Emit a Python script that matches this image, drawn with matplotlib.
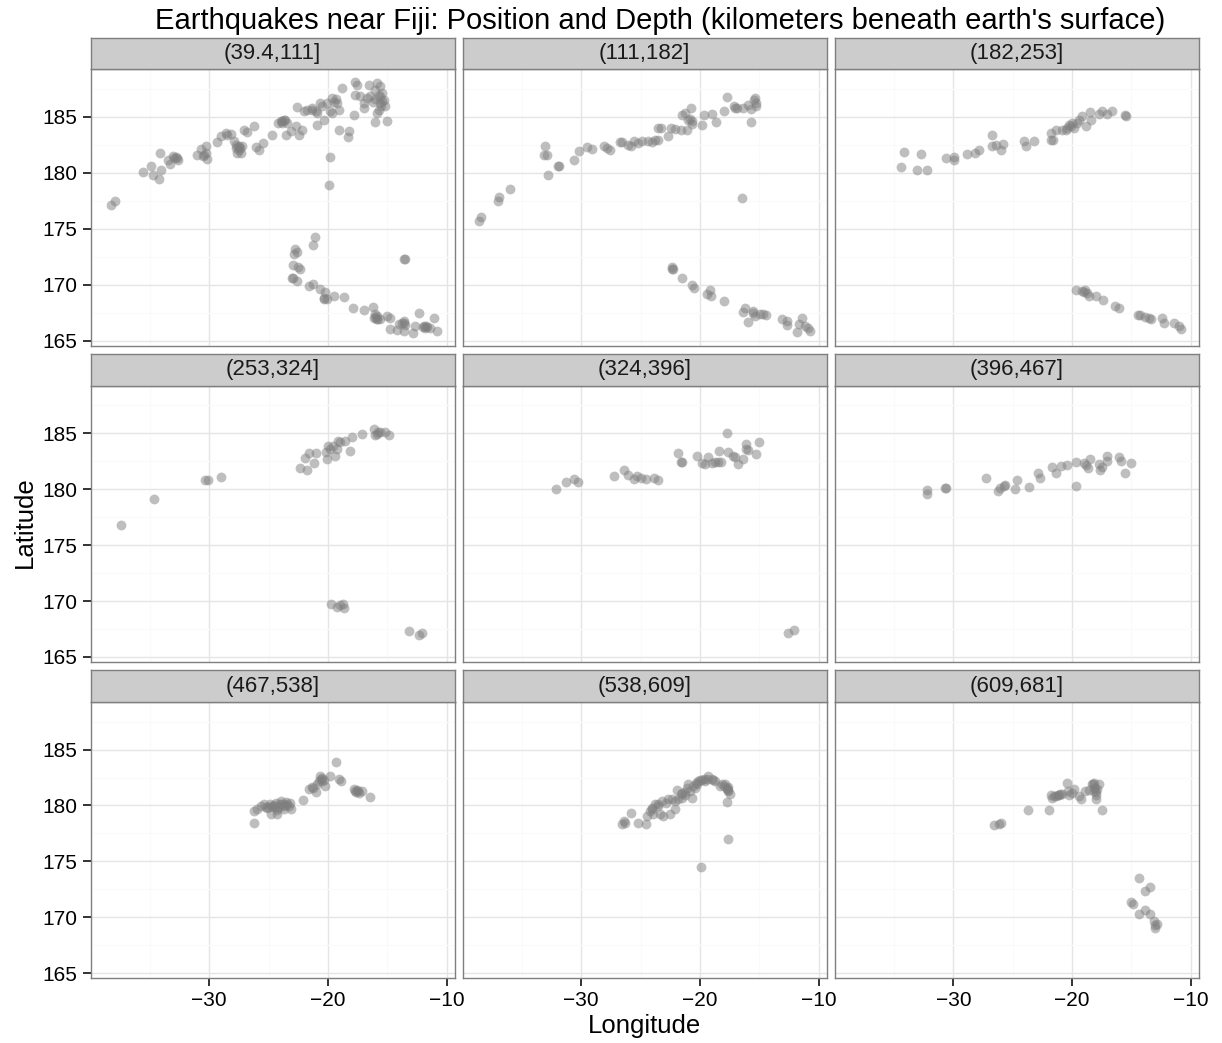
import numpy as np
import matplotlib
matplotlib.use("Agg")
import matplotlib.pyplot as plt

# depth classes (facet titles)
depth_bins = ["(39.4,111]", "(111,182]", "(182,253]",
              "(253,324]", "(324,396]", "(396,467]",
              "(467,538]", "(538,609]", "(609,681]"]

# values: lat (x axis) and long (y axis) per depth class
lat1 = [-38.26, -37.93, -35.55, -34.90, -34.71, -34.20, -34.06, -34.15, -33.50, -33.08,
        -32.60, -32.80, -33.28, -31.04, -30.70, -30.28, -30.14, -30.42, -29.30, -29.02,
        -28.60, -28.18, -27.76, -27.48, -27.20, -27.62, -27.34, -27.90, -27.06, -26.78,
        -26.22, -26.08, -25.80, -25.43, -24.68, -23.98, -23.70, -23.42, -23.56, -23.14,
        -22.72, -22.44, -22.16, -22.02, -22.58, -21.74, -21.32, -20.90, -20.90, -20.62,
        -20.34, -20.06, -19.78, -19.64, -19.22, -19.08, -19.64, -19.08, -18.24, -18.32,
        -17.82, -18.80, -17.68, -17.54, -17.68, -17.25, -16.97, -16.55, -16.41, -15.99,
        -15.85, -15.57, -15.43, -15.29, -15.57, -15.15, -15.85, -15.99, -15.01, -16.97,
        -16.69, -15.71, -19.78, -19.92, -23.84, -27.48, -28.46, -20.48, -15.43, -15.71,
        -23.90, -23.60, -24.20, -27.60, -27.40, -27.70, -16.00, -15.60, -15.50, -16.20,
        -30.30, -30.50, -33.00, -32.70, -21.00, -21.30, -19.50, -19.30,
        -21.12, -21.29, -22.77, -22.86, -22.58, -22.91, -22.35, -23.00, -22.58, -21.57,
        -21.23, -20.62, -20.20, -20.34, -20.06, -19.50, -18.66, -17.90, -16.97, -16.22,
        -16.13, -15.85, -15.57, -15.01, -14.73, -14.73, -14.17, -13.75, -13.61, -12.83,
        -12.35, -11.93, -11.65, -11.37, -11.04, -10.81, -12.63, -13.47, -15.99, -13.61,
        -13.47, -13.61, -14.03, -11.79, -15.85, -12.00, -11.70, -16.00, -15.90, -13.60,
        -22.50, -22.90, -20.30]
long1 = [177.17, 177.47, 180.06, 180.60, 179.82, 179.46, 180.24, 181.79, 181.19, 181.55,
         181.19, 181.43, 180.83, 181.61, 182.14, 182.38, 181.25, 181.64, 182.74, 183.27,
         183.57, 183.51, 182.23, 182.44, 182.38, 181.79, 181.79, 182.83, 183.87, 183.63,
         184.17, 182.32, 182.08, 182.68, 183.42, 184.61, 184.76, 184.46, 183.42, 183.72,
         184.17, 183.42, 183.87, 185.51, 185.89, 185.65, 185.80, 185.36, 184.32, 186.25,
         184.76, 186.25, 185.51, 186.70, 186.25, 185.65, 185.36, 183.87, 183.72, 183.21,
         185.21, 187.59, 188.10, 187.89, 186.99, 186.85, 185.80, 187.89, 186.85, 187.44,
         188.04, 187.80, 187.14, 186.55, 186.25, 185.95, 185.36, 184.52, 184.61, 186.25,
         186.70, 186.99, 181.43, 178.90, 184.46, 182.08, 183.42, 185.95, 186.40, 185.65,
         184.60, 184.70, 184.50, 182.30, 182.20, 182.50, 186.60, 186.80, 186.00, 186.30,
         181.80, 181.50, 181.30, 181.30, 185.50, 185.60, 186.30, 186.60,
         174.23, 173.51, 173.15, 172.71, 172.92, 171.76, 171.43, 170.63, 170.33, 169.88,
         170.03, 169.64, 169.35, 168.69, 168.75, 168.99, 168.87, 167.92, 167.74, 168.04,
         167.05, 167.20, 166.90, 167.20, 167.05, 166.07, 165.95, 166.61, 165.86, 165.65,
         167.50, 166.31, 166.25, 166.16, 167.05, 165.86, 166.31, 166.37, 167.35, 172.26,
         172.26, 166.76, 166.46, 166.16, 166.90, 166.20, 166.30, 167.10, 166.90, 166.60,
         171.60, 170.60, 168.80]

lat2 = [-38.63, -38.43, -37.03, -36.95, -35.97, -33.03, -33.17, -32.89, -32.83, -31.99,
        -31.85, -30.64, -30.22, -29.52, -29.10, -28.07, -27.79, -27.62, -26.72, -26.58,
        -26.08, -25.83, -25.55, -25.18, -24.90, -24.34, -24.06, -23.78, -23.50, -23.56,
        -23.28, -22.72, -22.44, -22.10, -21.62, -21.06, -21.54, -21.26, -20.76, -20.98,
        -20.70, -20.64, -19.80, -19.64, -18.96, -18.68, -17.98, -17.70, -17.11, -16.92,
        -16.36, -15.99, -15.71, -15.38, -15.32, -15.24, -15.43, -15.69, -16.44, -20.84,
        -17.06,
        -22.38, -22.30, -21.54, -20.70, -20.50, -19.44, -19.16, -19.08, -17.96, -16.41,
        -16.22, -15.94, -15.52, -15.38, -14.96, -14.68, -14.40, -13.08, -12.66, -12.63,
        -11.79, -11.68, -11.40, -10.90, -10.76, -11.18, -15.52, -22.38]
long2 = [175.68, 176.04, 177.53, 177.86, 178.57, 182.38, 181.61, 181.61, 179.79, 180.60,
         180.63, 181.19, 181.99, 182.32, 182.14, 182.44, 182.23, 182.08, 182.74, 182.77,
         182.50, 182.38, 182.89, 182.68, 182.89, 182.83, 182.74, 182.98, 182.98, 184.02,
         184.02, 183.33, 184.02, 183.96, 183.87, 183.81, 185.21, 185.36, 185.77, 184.76,
         184.61, 184.38, 184.32, 185.21, 185.30, 184.52, 185.51, 186.79, 185.95, 185.80,
         185.80, 186.10, 185.71, 186.70, 186.25, 185.95, 186.49, 184.52, 177.77, 184.82,
         185.80,
         171.61, 171.43, 170.57, 169.94, 169.73, 169.14, 169.52, 168.99, 168.54, 167.56,
         167.95, 166.67, 167.65, 167.20, 167.35, 167.35, 167.26, 166.90, 166.37, 166.76,
         165.77, 166.46, 167.05, 166.16, 165.86, 166.31, 167.50, 171.43]

lat3 = [-34.41, -34.13, -33.04, -32.74, -32.21, -30.59, -29.97, -29.94, -28.83, -28.21,
        -27.88, -26.73, -26.73, -26.40, -25.98, -25.78, -24.02, -23.88, -23.18, -21.79,
        -21.79, -21.59, -21.37, -20.81, -20.39, -20.25, -19.97, -19.83, -19.55, -19.19,
        -18.85, -18.44, -18.52, -17.74, -17.46, -17.09, -16.62, -15.50, -15.45, -20.11,
        -19.41, -20.53,
        -19.69, -19.13, -18.91, -18.72, -18.58, -18.02, -17.40, -16.34, -16.06, -14.44,
        -14.25, -13.83, -13.55, -13.32, -12.43, -12.29, -11.45, -11.03, -10.81, -18.99]
long3 = [180.54, 181.85, 180.24, 181.73, 180.24, 181.34, 181.43, 181.13, 181.70, 181.79,
         182.08, 183.42, 182.38, 182.53, 182.08, 182.62, 182.83, 182.44, 182.83, 183.57,
         182.98, 182.92, 183.81, 183.81, 184.02, 184.32, 184.46, 184.02, 184.46, 185.06,
         184.17, 184.76, 185.42, 185.30, 185.51, 185.30, 185.57, 185.21, 185.12, 184.17,
         184.76, 183.87,
         169.52, 169.43, 169.52, 169.23, 168.99, 168.99, 168.63, 168.10, 167.92, 167.26,
         167.26, 167.14, 167.05, 166.96, 167.05, 166.61, 166.55, 166.31, 166.01, 169.35]

lat4 = [-37.39, -34.65, -30.34, -30.06, -28.99, -22.35, -21.79, -21.93, -21.60, -21.18,
        -20.98, -20.11, -20.17, -20.00, -19.58, -19.36, -19.22, -19.16, -18.94, -18.57,
        -18.15, -17.93, -17.09, -16.08, -15.99, -15.80, -15.57, -15.15, -14.82, -19.72,
        -19.22, -18.99, -18.74, -18.60, -13.17, -12.35, -12.07, -19.78, -15.85]
long4 = [176.78, 179.09, 180.79, 180.79, 181.11, 181.91, 181.68, 182.77, 183.25, 182.36,
         183.19, 182.72, 183.31, 183.90, 183.90, 183.01, 183.55, 184.35, 184.20, 184.29,
         183.40, 184.70, 184.94, 185.39, 184.85, 185.15, 185.09, 185.15, 184.85, 169.75,
         169.51, 169.66, 169.72, 169.36, 167.28, 166.99, 167.11, 183.61, 184.94]

lat5 = [-32.13, -31.26, -30.62, -30.28, -27.25, -26.39, -26.02, -25.52, -25.27, -24.99,
        -24.54, -23.84, -23.56, -21.82, -21.60, -20.28, -19.80, -19.58, -19.30, -19.02,
        -18.74, -18.46, -18.24, -18.40, -17.70, -17.62, -17.20, -17.06, -16.83, -16.36,
        -16.16, -16.16, -15.99, -15.24, -15.01, -12.58, -12.07, -21.54]
long5 = [179.99, 180.64, 180.91, 180.61, 181.14, 181.74, 181.23, 180.94, 181.17, 180.99,
         180.94, 181.02, 180.79, 183.19, 182.42, 183.01, 182.36, 182.27, 182.86, 182.36,
         182.42, 182.42, 182.42, 183.43, 185.00, 183.31, 182.95, 182.86, 182.27, 182.72,
         184.08, 183.61, 183.52, 183.10, 184.20, 167.14, 167.43, 182.42]

lat6 = [-32.18, -32.18, -30.67, -30.64, -27.26, -26.20, -26.03, -25.70, -25.61, -24.83,
        -24.66, -23.60, -22.85, -22.71, -21.65, -21.37, -20.89, -20.39, -19.69, -19.66,
        -18.99, -18.85, -18.63, -18.52, -17.74, -17.68, -17.46, -17.04, -17.04, -16.06,
        -15.89, -15.50, -15.06]
long6 = [179.90, 179.60, 180.13, 180.10, 181.02, 179.84, 180.13, 180.31, 180.37, 180.01,
         180.82, 180.22, 181.41, 181.02, 181.94, 181.47, 182.09, 182.15, 182.45, 180.31,
         182.30, 182.15, 181.91, 182.69, 182.24, 181.71, 182.00, 182.98, 182.51, 182.89,
         182.51, 181.44, 182.33]

lat7 = [-26.19, -26.19, -25.94, -25.66, -25.38, -25.10, -24.82, -24.68, -24.40, -24.26,
        -24.12, -23.84, -23.70, -23.56, -23.42, -23.19, -23.14, -24.26, -23.98, -23.28,
        -25.24, -24.90, -24.54, -23.70, -22.13, -21.60, -21.32, -21.04, -20.90, -20.62,
        -20.48, -20.34, -20.20, -19.83, -19.30, -19.08, -18.88, -17.82, -17.68, -17.54,
        -17.39, -17.11, -16.47, -20.76, -21.23, -24.50, -24.00, -23.60, -25.00, -24.30,
        -20.60, -20.50, -17.60, -17.50]
long7 = [179.49, 178.42, 179.64, 179.94, 180.09, 179.73, 179.20, 179.94, 180.24, 179.20,
         179.85, 180.09, 179.64, 180.33, 180.09, 180.24, 179.64, 179.79, 180.39, 179.94,
         179.85, 180.15, 179.85, 179.94, 180.51, 181.43, 181.64, 181.22, 181.88, 182.62,
         182.17, 182.32, 181.73, 182.62, 183.87, 182.38, 182.17, 181.43, 181.28, 181.34,
         181.13, 181.28, 180.77, 182.17, 181.52, 180.00, 180.10, 180.00, 179.90, 179.60,
         182.40, 182.50, 181.20, 181.30]

lat8 = [-26.58, -26.30, -26.44, -25.80, -25.18, -24.57, -24.45, -24.20, -24.06, -23.78,
        -23.50, -23.36, -23.08, -22.66, -22.52, -22.10, -21.96, -21.82, -21.54, -21.26,
        -20.98, -20.84, -20.70, -20.56, -20.42, -20.14, -19.86, -19.58, -19.30, -19.02,
        -18.74, -18.32, -17.90, -17.76, -17.62, -17.48, -17.62, -17.70, -17.65, -19.92,
        -23.50, -23.22, -22.38, -21.54, -21.12, -20.28, -19.44, -18.88, -18.18, -23.92,
        -22.10, -20.30, -20.00, -19.70, -18.00, -17.70, -17.60, -21.30, -21.60, -22.90,
        -24.00]
long8 = [178.36, 178.42, 178.60, 179.35, 178.39, 178.36, 179.05, 179.49, 179.79, 180.09,
         180.09, 179.20, 179.05, 180.54, 179.20, 179.64, 181.34, 180.54, 180.69, 180.98,
         181.88, 181.28, 180.69, 181.73, 181.58, 182.17, 182.32, 182.17, 182.62, 182.41,
         182.17, 181.73, 181.93, 181.52, 181.28, 181.04, 181.64, 180.30, 176.99, 174.46,
         179.94, 180.39, 180.54, 181.13, 181.52, 181.88, 182.41, 182.32, 181.88, 179.20,
         180.39, 182.00, 182.30, 182.40, 181.70, 181.50, 181.40, 181.20, 181.00, 180.20,
         179.70]

lat9 = [-26.54, -26.12, -25.98, -23.72, -21.98, -21.79, -21.65, -21.37, -21.09, -20.81,
        -20.45, -20.31, -20.25, -19.83, -19.41, -19.27, -18.91, -18.58, -18.30, -18.16,
        -18.02, -18.02, -17.74, -17.51, -18.16, -17.88, -14.39, -13.41, -13.88, -15.03,
        -14.89, -14.39, -13.88, -13.41, -13.13, -12.99, -12.85, -13.04, -21.51, -18.16,
        -20.03, -18.10, -18.00, -18.20, -21.20, -21.00]
long9 = [178.27, 178.33, 178.42, 179.58, 179.58, 180.98, 180.68, 180.83, 180.98, 181.04,
         181.99, 181.28, 180.98, 181.43, 180.83, 180.54, 181.28, 181.34, 181.88, 181.58,
         180.98, 180.54, 181.88, 179.58, 181.28, 181.43, 173.54, 172.74, 172.35, 171.40,
         171.16, 170.33, 170.63, 170.33, 169.67, 169.32, 169.43, 169.08, 180.83, 182.02,
         181.13, 181.60, 181.20, 181.90, 180.90, 181.00]

lats = [lat1, lat2, lat3, lat4, lat5, lat6, lat7, lat8, lat9]
longs = [long1, long2, long3, long4, long5, long6, long7, long8, long9]

x_range = (-39.98, -9.33)
y_range = (164.55, 189.25)

W, H = 1222, 1043
fig = plt.figure(figsize=(W / 100, H / 100), dpi=100)
plt.rcParams['font.family'] = ['Liberation Sans', 'DejaVu Sans']

panel_w, panel_h = 363.8, 276.3
gap = 8.3
strip_h = 31.7
left0 = 90.7
row_tops = [69.4, 385.7, 702.0]

for i in range(9):
    r, c = divmod(i, 3)
    x0 = left0 + c * (panel_w + gap)
    y0 = row_tops[r]
    ax = fig.add_axes([x0 / W, 1 - (y0 + panel_h) / H, panel_w / W, panel_h / H])
    ax.set_xlim(*x_range)
    ax.set_ylim(*y_range)
    ax.set_xticks([-30, -20, -10])
    ax.set_xticks([-35, -25, -15], minor=True)
    ax.set_yticks([165, 170, 175, 180, 185])
    ax.set_yticks([167.5, 172.5, 177.5, 182.5, 187.5], minor=True)
    ax.grid(True, which='major', color='#E5E5E5', lw=1.0)
    ax.grid(True, which='minor', color='#FAFAFA', lw=1.0)
    ax.set_axisbelow(True)
    for s in ax.spines.values():
        s.set_color('#7F7F7F')
        s.set_linewidth(1.0)
    ax.scatter(lats[i], longs[i], s=50, color='#7F7F7F', alpha=0.5,
               linewidths=0, zorder=3)
    ax.tick_params(which='minor', length=0)
    ax.tick_params(which='major', length=5.5, width=1.4, color='#333333',
                   labelsize=15, pad=4, labelcolor='black')
    if c != 0:
        ax.tick_params(axis='y', length=0, labelleft=False)
    if r != 2:
        ax.tick_params(axis='x', length=0, labelbottom=False)

    # facet strip
    sax = fig.add_axes([x0 / W, 1 - y0 / H, panel_w / W, strip_h / H])
    sax.set_facecolor('#CCCCCC')
    sax.set_xticks([])
    sax.set_yticks([])
    for s in sax.spines.values():
        s.set_color('#7F7F7F')
        s.set_linewidth(1.0)
    sax.text(0.5, 0.5, depth_bins[i], ha='center', va='center', fontsize=16,
             color='#1A1A1A', transform=sax.transAxes)

fig.text(660 / W, 1 - 21 / H,
         "Earthquakes near Fiji: Position and Depth (kilometers beneath earth's surface)",
         ha='center', va='center', fontsize=21)
fig.text(645 / W, 1 - 1026 / H, "Longitude", ha='center', va='center', fontsize=18.5)
fig.text(25 / W, 1 - 522 / H, "Latitude", ha='center', va='center', fontsize=18.5,
         rotation=90)

fig.savefig("out.png", dpi=100)
